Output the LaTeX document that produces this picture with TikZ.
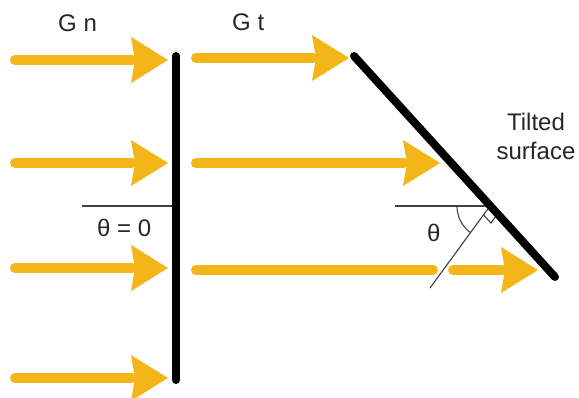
\documentclass[tikz,border=0pt]{standalone}
\usepackage{fontspec}
\setmainfont{Liberation Sans}
\usetikzlibrary{calc}
\definecolor{sun}{RGB}{243,181,23}
\newcommand{\sunarrow}[4]{% name, start x, tip x, y
  \coordinate (#1s) at (#2,#4);
  \coordinate (#1b) at (#3-36,#4);
  \coordinate (#1t) at (#3,#4);
  \draw[beam] (#1s) -- (#1b);
  \fill[tipshape] (#1t) -- ($(#1b)+(-1,-23)$) -- ($(#1b)+(3,0)$) -- ($(#1b)+(-1,23)$) -- cycle;
}
\begin{document}
\begin{tikzpicture}[x=1pt,y=-1pt,
  beam/.style={line width=10pt,line cap=round,draw=sun},
  tipshape/.style={fill=sun,draw=none},
  wall/.style={line width=8pt,line cap=round,draw=black},
  thin/.style={line width=1.1pt,draw=black!75},
  lbl/.style={inner sep=0pt,font=\fontsize{24}{29}\selectfont,text=black!85},
]
\useasboundingbox (0,0) rectangle (579,398);
% thin reference lines
\coordinate (h1) at (82,206);
\coordinate (h2) at (176,206);
\draw[thin] (h1) -- (h2);
\coordinate (f) at (490,206);
\coordinate (h3) at (395,206);
\coordinate (n1) at (430,288);
\draw[thin] (h3) -- (f);
\draw[thin] (n1) -- (f);
\draw[thin] plot[domain=126:180,samples=30] ({490+33*cos(\x)},{206+33*sin(\x)});
\coordinate (ra) at (483.5,214.9);
\coordinate (rc) at (490.9,223);
\coordinate (rb) at (497.4,214.1);
\draw[thin] (ra) -- (rc) -- (rb);
% arrows
\sunarrow{l1}{15}{168}{60}
\sunarrow{l2}{15}{168}{163}
\sunarrow{l3}{15}{168}{268}
\sunarrow{l4}{15}{168}{378}
\sunarrow{r1}{196}{349}{58}
\sunarrow{r2}{196}{440}{163}
\coordinate (r3a) at (196,270);
\coordinate (r3b) at (433,270);
\draw[beam] (r3a) -- (r3b);
\sunarrow{r4}{453}{538}{270}
% surfaces
\coordinate (w1) at (176,56);
\coordinate (w2) at (176,380);
\draw[wall] (w1) -- (w2);
\coordinate (s1) at (354,56);
\coordinate (s2) at (555,277);
\draw[wall] (s1) -- (s2);
% labels
\node[lbl,anchor=base west] (gn) at (58,32) {G n};
\node[lbl,anchor=base west] (gt) at (232,31) {G t};
\node[lbl,anchor=base west] (t0) at (97,237) {θ = 0};
\node[lbl,anchor=base west] (th) at (427,242) {θ};
\node[lbl,anchor=north,align=center] (ts) at (536,113) {Tilted\\surface};
\end{tikzpicture}
\end{document}
